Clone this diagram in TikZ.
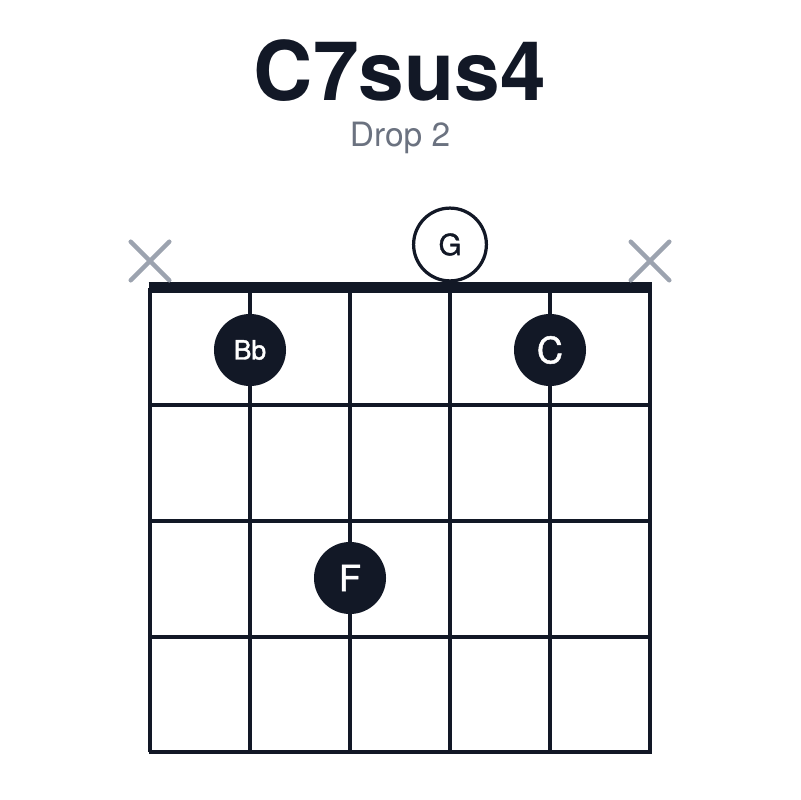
\documentclass[tikz,border=0pt]{standalone}
\usepackage{fontspec}
\setmainfont{TeX Gyre Heros}
\newfontfamily\notefont[FakeBold=1.3]{TeX Gyre Heros}
\usepackage{tikz}
\usetikzlibrary{positioning,shapes.misc}
\definecolor{ink}{HTML}{121826}
\definecolor{mutegray}{HTML}{9CA3AF}
\definecolor{subgray}{HTML}{6B7280}
\tikzset{fingernode/.style={circle, fill=ink, text=white, inner sep=0pt, minimum size=1.8cm, font=\notefont\fontsize{25.8}{28}\selectfont},
opennode/.style={circle, draw=ink, fill=white, line width=2.3pt, inner sep=0pt, minimum size=1.82cm, text=ink, font=\notefont\fontsize{20.8}{24}\selectfont},
mutedmark/.style={cross out, draw=mutegray, line width=3.2pt, line cap=round, inner sep=0pt, minimum size=0.85cm},
gridline/.style={draw=ink, line width=2.4pt},}

\begin{document}
\begin{tikzpicture}[x=0.025cm, y=-0.025cm]
\useasboundingbox[fill=white] (0,0) rectangle (800,800);
\node [anchor=base, text=ink, font=\fontsize{58.4}{62}\selectfont\bfseries] (title) at (400,101) {C7sus4};
\node [anchor=base, text=subgray, font=\fontsize{23.8}{28}\selectfont] (voicing) at (400,147) {Drop 2};
% strings and frets
\foreach \x in {150,250,...,650}
  \draw [gridline] (\x,288) -- (\x,752);
\foreach \y in {405,521,637,752}
  \draw [gridline] (148.5,\y) -- (651.5,\y);
\draw [ink, line width=7.8pt] (148.5,287.5) -- (651.5,287.5);
% muted strings
\node [mutedmark] (mute1) at (150,261) {};
\node [mutedmark] (mute6) at (650,261) {};
% notes
\node [opennode] (g) at (450,244.5) {G};
\node [fingernode, font=\notefont\fontsize{18.8}{22}\selectfont] (bb) at (250,350) {Bb};
\node [fingernode] (c) at (550,350) {C};
\node [fingernode] (f) at (350,578) {F};
\end{tikzpicture}
\end{document}
